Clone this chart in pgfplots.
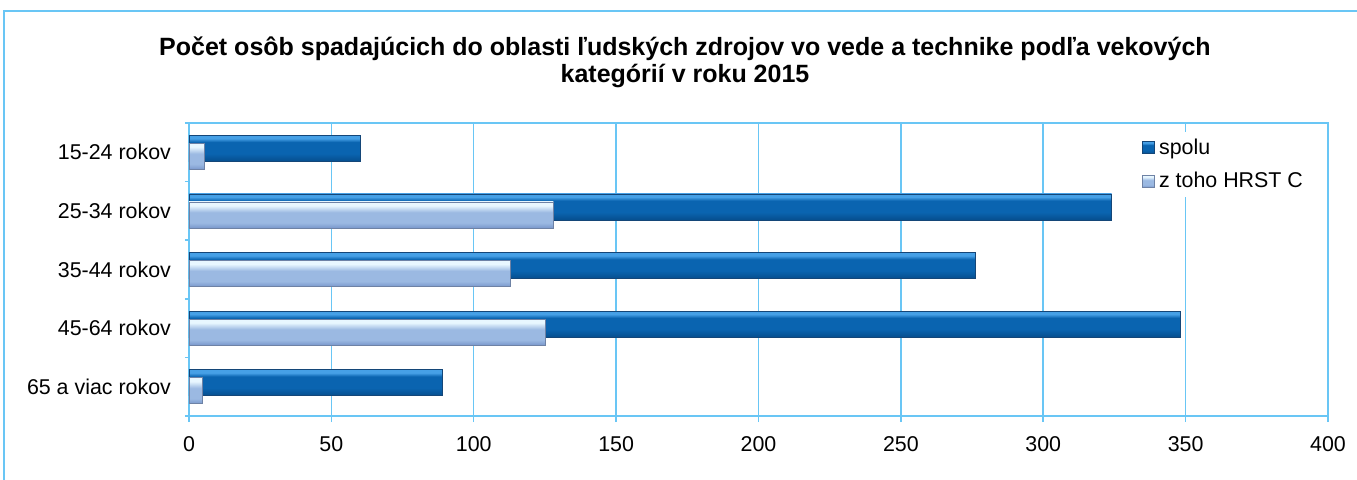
\documentclass[border=0pt]{standalone}
\usepackage{pgfplots}
\pgfplotsset{compat=1.18}
\usepackage{fontspec}
\setmainfont{Liberation Sans}
\definecolor{gridb}{RGB}{105,198,245}
\definecolor{sHi}{RGB}{70,160,230}
\definecolor{sM}{RGB}{10,100,176}
\definecolor{sB}{RGB}{6,78,142}
\definecolor{sEdge}{RGB}{20,70,120}
\definecolor{hHi}{RGB}{232,247,255}
\definecolor{hM}{RGB}{155,185,226}
\definecolor{hB}{RGB}{122,152,204}
\definecolor{hEdge}{RGB}{110,130,165}
\pgfdeclareverticalshading{spolush}{100bp}{color(0bp)=(sB); color(25bp)=(sB); color(40bp)=(sM); color(62bp)=(sM); color(69bp)=(sHi); color(75bp)=(sHi); color(100bp)=(sHi)}
\pgfdeclareverticalshading{hrstsh}{100bp}{color(0bp)=(hB); color(25bp)=(hB); color(35bp)=(hM); color(55bp)=(hM); color(68bp)=(hHi); color(75bp)=(hHi); color(100bp)=(hHi)}
\pgfplotsset{
  spolu/.style={shade, shading=spolush, draw=sEdge, line width=0.3pt, bar shift=2pt},
  hrst/.style={shade, shading=hrstsh, draw=hEdge, line width=0.3pt, bar shift=-2pt},
}
\begin{document}
\begin{tikzpicture}
\useasboundingbox (0,0) rectangle (678.5pt,-239.5pt);
\draw[gridb, line width=0.9pt] (2pt,-300pt) -- (2pt,-5.5pt) -- (700pt,-5.5pt);
\node[align=center, font=\bfseries\fontsize{12.5}{13.5}\selectfont] at (342.5pt,-31.25pt) {Počet osôb spadajúcich do oblasti ľudských zdrojov vo vede a technike podľa vekových\\kategórií v roku 2015};
\begin{axis}[
  at={(94.5pt,-208pt)}, anchor=south west,
  scale only axis, width=569.5pt, height=146.5pt,
  xbar, bar width=13pt,
  xmin=0, xmax=400, xtick={0,50,...,400},
  ymin=-0.5, ymax=4.5, y dir=reverse,
  ytick={0,...,4},
  yticklabels={15-24 rokov,25-34 rokov,35-44 rokov,45-64 rokov,65 a viac rokov},
  minor ytick={-0.5,0.5,...,4.5},
  xtick pos=bottom, ytick pos=left,
  tick align=outside, major tick length=3pt, minor tick length=2pt,
  every major y tick/.append style={draw=none},
  tick style={gridb, line width=0.75pt},
  axis line style={gridb, line width=0.75pt},
  xmajorgrids, grid style={gridb, line width=0.75pt},
  ticklabel style={font=\fontsize{10.7}{12}\selectfont},
  yticklabel style={xshift=-2.5pt},
  xticklabel style={yshift=-3.5pt},
  /pgf/number format/assume math mode=true,
  legend style={at={(0.835,0.969)}, anchor=north west, draw=none, fill=white,
    font=\fontsize{10.7}{12}\selectfont, row sep=3.5pt, inner sep=1pt,
    legend cell align=left},
  legend image code/.code={\path[#1] (0pt,-3pt) rectangle (6pt,3pt);},
]
% spolu
\addplot[spolu] coordinates {(60,0)};
\addlegendentry{spolu}
\addplot[spolu, forget plot] coordinates {(324,1)};
\addplot[spolu, forget plot] coordinates {(276,2)};
\addplot[spolu, forget plot] coordinates {(348,3)};
\addplot[spolu, forget plot] coordinates {(89,4)};
% z toho HRST C
\addplot[hrst] coordinates {(5.5,0)};
\addlegendentry{z toho HRST C}
\addplot[hrst, forget plot] coordinates {(128,1)};
\addplot[hrst, forget plot] coordinates {(113,2)};
\addplot[hrst, forget plot] coordinates {(125,3)};
\addplot[hrst, forget plot] coordinates {(4.5,4)};
\draw[gridb, line width=1.2pt] ([xshift=-3.5pt]axis cs:0,4.5) -- (axis cs:400,4.5);
\end{axis}
\end{tikzpicture}
\end{document}
